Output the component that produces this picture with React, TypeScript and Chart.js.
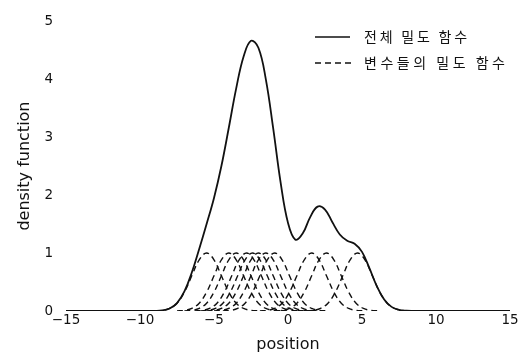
import React, { useEffect, useRef } from 'react';
import { Chart, registerables } from 'chart.js';

Chart.register(...registerables);

// ---- data ----
const X_TICKS = [-15, -10, -5, 0, 5, 10, 15];
const Y_TICKS = [0, 1, 2, 3, 4, 5];

// total density (solid curve)
const TOTAL_X = [-15, -9.5, -9, -8.5, -8, -7.5, -7, -6.5, -6, -5.5, -5, -4.5, -4, -3.5, -3, -2.5, -2, -1.5, -1, -0.5, 0, 0.5, 1, 1.5, 2, 2.5, 3, 3.5, 4, 4.5, 5, 5.5, 6, 6.5, 7, 7.5, 8, 8.5, 9, 15];
const TOTAL_Y = [0, 0, 0.002, 0.011, 0.044, 0.137, 0.338, 0.663, 1.07, 1.5, 1.95, 2.5, 3.16, 3.84, 4.39, 4.66, 4.54, 4.0, 3.15, 2.22, 1.52, 1.23, 1.34, 1.62, 1.8, 1.75, 1.53, 1.32, 1.21, 1.16, 1.02, 0.74, 0.43, 0.2, 0.071, 0.02, 0.004, 0.001, 0, 0];

// individual variable densities (dashed curves): centres and one bump profile
const KERNEL_CENTERS = [-5.5, -4.0, -3.5, -2.8, -2.4, -2.0, -1.5, -0.9, 1.6, 2.6, 4.7];
const KERNEL_OFFSETS = [-3.5, -3, -2.5, -2, -1.5, -1, -0.5, 0, 0.5, 1, 1.5, 2, 2.5, 3, 3.5];
const KERNEL_SHAPE = [0.002, 0.011, 0.044, 0.135, 0.325, 0.607, 0.882, 1, 0.882, 0.607, 0.325, 0.135, 0.044, 0.011, 0.002];

const LEGEND_LABELS = ['전체 밀도 함수', '변수들의 밀도 함수'];
const X_TITLE = 'position';
const Y_TITLE = 'density function';

const INK = '#111111';

const legendPlugin = {
  id: 'koreanLegend',
  afterDraw(chart: any) {
    const ctx: CanvasRenderingContext2D = chart.ctx;
    ctx.save();
    ctx.strokeStyle = INK;
    ctx.lineWidth = 1.3;
    ctx.setLineDash([]);
    ctx.beginPath();
    ctx.moveTo(315, 37);
    ctx.lineTo(350, 37);
    ctx.stroke();
    ctx.setLineDash([6, 4]);
    ctx.beginPath();
    ctx.moveTo(315, 63);
    ctx.lineTo(352, 63);
    ctx.stroke();
    ctx.setLineDash([]);
    ctx.font = '14px "Noto Sans CJK KR"';
    ctx.fillStyle = INK;
    ctx.textBaseline = 'middle';
    ctx.textAlign = 'left';
    const rows = [
      { text: LEGEND_LABELS[0], x: 364, y: 37, w: 103 },
      { text: LEGEND_LABELS[1], x: 364, y: 63, w: 141 },
    ];
    for (const r of rows) {
      (ctx as any).letterSpacing = '0px';
      const natural = ctx.measureText(r.text).width;
      const n = Array.from(r.text).length;
      const ls = Math.max(0, (r.w - natural) / (n - 1));
      (ctx as any).letterSpacing = ls.toFixed(2) + 'px';
      ctx.fillText(r.text, r.x, r.y);
    }
    (ctx as any).letterSpacing = '0px';
    ctx.restore();
  },
};

export default function App() {
  const ref = useRef<HTMLCanvasElement | null>(null);

  useEffect(() => {
    if (!ref.current) return;
    Chart.defaults.font.family = '"DejaVu Sans", sans-serif';
    Chart.defaults.color = INK;

    const kernelSets = KERNEL_CENTERS.map((c, i) => ({
      label: 'k' + i,
      data: KERNEL_OFFSETS.map((o, j) => ({ x: c + o, y: KERNEL_SHAPE[j] })),
      borderColor: INK,
      borderWidth: 1.4,
      borderDash: [6, 4],
      pointRadius: 0,
      fill: false,
      tension: 0.4,
    }));

    const chart = new Chart(ref.current, {
      type: 'line',
      data: {
        datasets: [
          ...kernelSets,
          {
            label: 'total',
            data: TOTAL_X.map((x, i) => ({ x, y: TOTAL_Y[i] })),
            borderColor: INK,
            borderWidth: 1.8,
            pointRadius: 0,
            fill: false,
            tension: 0.4,
          },
        ],
      },
      options: {
        responsive: false,
        animation: false,
        devicePixelRatio: 1,
        layout: { padding: { left: 0, right: 20, top: 19, bottom: 0 } },
        plugins: {
          legend: { display: false },
          tooltip: { enabled: false },
        },
        scales: {
          x: {
            type: 'linear',
            min: -15,
            max: 15,
            grid: { display: false, drawTicks: false },
            border: { display: false },
            afterBuildTicks: (s: any) => {
              s.ticks = X_TICKS.map((v) => ({ value: v }));
            },
            afterFit: (s: any) => {
              s.height = 45;
            },
            ticks: {
              padding: 1,
              maxRotation: 0,
              autoSkip: false,
              font: { size: 13.5 },
              color: INK,
              callback: (v: any) => (Number(v) < 0 ? '\u2212' + Math.abs(Number(v)) : String(v)),
            },
            title: {
              display: true,
              text: X_TITLE,
              font: { size: 16 },
              color: INK,
              padding: { top: 0, bottom: 2 },
            },
          },
          y: {
            type: 'linear',
            min: 0,
            max: 5,
            grid: { display: false, drawTicks: false },
            border: { display: false },
            afterBuildTicks: (s: any) => {
              s.ticks = Y_TICKS.map((v) => ({ value: v }));
            },
            afterFit: (s: any) => {
              s.width = 66;
            },
            ticks: {
              padding: 13,
              font: { size: 13.5 },
              color: INK,
            },
            title: {
              display: true,
              text: Y_TITLE,
              font: { size: 16 },
              color: INK,
              padding: { top: 15, bottom: 0 },
            },
          },
        },
      },
      plugins: [legendPlugin],
    });

    return () => chart.destroy();
  }, []);

  return (
    <div style={{ position: 'fixed', left: 0, top: 0, width: 530, height: 356, background: '#fff' }}>
      <canvas ref={ref} width={530} height={356} style={{ display: 'block' }} />
    </div>
  );
}
